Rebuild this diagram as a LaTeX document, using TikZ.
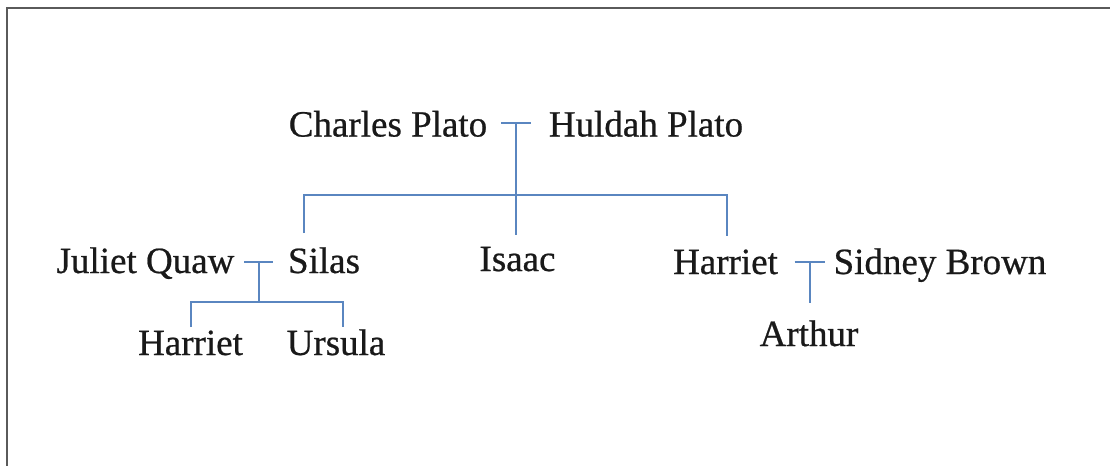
\documentclass[tikz,border=0pt]{standalone}
\usepackage{fontspec}
\setmainfont{Liberation Serif}[FakeBold=0.6]
\definecolor{linkblue}{HTML}{5A86C0}
\definecolor{framegray}{HTML}{5A5A5A}
\begin{document}
\begin{tikzpicture}[x=1pt,y=-1pt,
  person/.style={inner sep=0pt,anchor=base,font=\fontsize{37}{44}\selectfont,text=black!90},
  link/.style={draw=linkblue,line width=2pt},
  frame/.style={draw=framegray,line width=2pt}]
\useasboundingbox (0,0) rectangle (1110,466);
\fill[white] (0,0) rectangle (1110,466);
% page frame: top and left edges
\draw[frame] (1110,7.5) -- (7,7.5) -- (7,466);

% first generation
\node[person] (charles) at (388,136.5) {Charles Plato};
\node[person] (huldah)  at (646,136.5) {Huldah Plato};
% second generation
\node[person] (juliet)   at (145.5,273) {Juliet Quaw};
\node[person] (silas)    at (324,273)   {Silas};
\node[person] (isaac)    at (517.5,271) {Isaac};
\node[person] (harrietR) at (725.5,274) {Harriet};
\node[person] (sidney)   at (940,274)   {Sidney Brown};
% third generation
\node[person] (harrietL) at (190.5,355) {Harriet};
\node[person] (ursula)   at (336,355)   {Ursula};
\node[person] (arthur)   at (809,346)   {Arthur};

% junction points
\coordinate (m1) at (516,122.5);
\coordinate (bar1) at (516,194.5);
\coordinate (silasTop) at (304,233);
\coordinate (isaacTop) at (516,235);
\coordinate (harrietRTop) at (727,236);
\coordinate (m2) at (258.5,262);
\coordinate (bar2) at (258.5,302);
\coordinate (harrietLTop) at (191,327);
\coordinate (ursulaTop) at (343,327);
\coordinate (m3) at (809.5,262);
\coordinate (arthurTop) at (809.5,303);

% Charles + Huldah and their children
\draw[link] ([xshift=-15pt]m1) -- ([xshift=15pt]m1);
\draw[link] (m1) -- (isaacTop);
\draw[link] (silasTop) -- (silasTop |- bar1) -- (harrietRTop |- bar1) -- (harrietRTop);

% Juliet + Silas and their children
\draw[link] ([xshift=-14.5pt]m2) -- ([xshift=14.5pt]m2);
\draw[link] (m2) -- (bar2);
\draw[link] (harrietLTop) -- (harrietLTop |- bar2) -- (ursulaTop |- bar2) -- (ursulaTop);

% Harriet + Sidney and their child
\draw[link] ([xshift=-15pt]m3) -- ([xshift=15pt]m3);
\draw[link] (m3) -- (arthurTop);
\end{tikzpicture}
\end{document}
